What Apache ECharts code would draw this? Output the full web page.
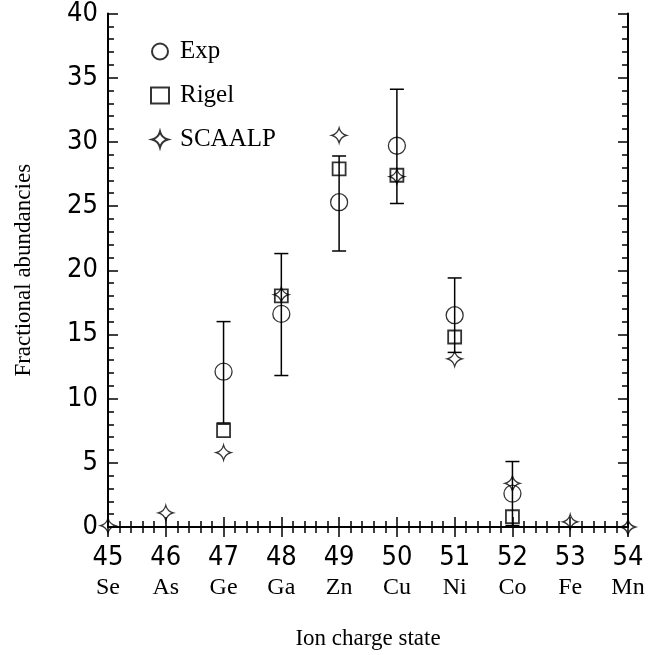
<!DOCTYPE html>
<html>
<head>
<meta charset="utf-8">
<title>Fractional abundancies</title>
<script src="https://cdn.jsdelivr.net/npm/echarts@6/dist/echarts.min.js"></script>
<style>
  html, body { margin: 0; padding: 0; background: #fff; }
  #chart { width: 660px; height: 655px; }
</style>
</head>
<body>
<div id="chart"></div>
<script>
// ion charge states and the matching element names
const charges = [45, 46, 47, 48, 49, 50, 51, 52, 53, 54]
const elements = ['Se', 'As', 'Ge', 'Ga', 'Zn', 'Cu', 'Ni', 'Co', 'Fe', 'Mn']

// experiment, with error bars
const expCharges = [47, 48, 49, 50, 51, 52]
const expValues = [12.1, 16.6, 25.3, 29.7, 16.5, 2.6]
const expLow = [8.1, 11.8, 21.5, 25.2, 13.6, 0.1]
const expHigh = [16.0, 21.3, 28.9, 34.1, 19.4, 5.1]

// Rigel
const rigelCharges = [47, 48, 49, 50, 51, 52]
const rigelValues = [7.5, 18.0, 27.9, 27.4, 14.8, 0.8]

// SCAALP
const scaalpValues = [0.1, 1.1, 5.8, 18.1, 30.5, 27.3, 13.1, 3.4, 0.4, 0.0]

const yTicks = [0, 5, 10, 15, 20, 25, 30, 35, 40]

const starPath = 'path://M0,-10 Q2,-2 10,0 Q2,2 0,10 Q-2,2 -10,0 Q-2,-2 0,-10 Z'
const sansFont = '"DejaVu Sans Condensed", "DejaVu Sans", sans-serif'
const serifFont = '"Liberation Serif", "DejaVu Serif", serif'

const chart = echarts.init(document.getElementById('chart'))

const tickStyle = { color: '#000', width: 1.5 }

const option = {
  animation: false,
  backgroundColor: '#fff',
  grid: { left: 108, right: 32, top: 9, bottom: 128 },
  legend: {
    orient: 'vertical',
    left: 145,
    top: 34,
    itemGap: 19,
    itemWidth: 18,
    itemHeight: 16,
    data: ['Exp', 'Rigel', 'SCAALP'],
    textStyle: { fontFamily: serifFont, fontSize: 25, color: '#000', padding: [0, 0, 0, 6] }
  },
  xAxis: [
    {
      type: 'value',
      min: 45,
      max: 54,
      interval: 1,
      position: 'bottom',
      name: 'Ion charge state',
      nameLocation: 'middle',
      nameMoveOverlap: false,
      nameGap: 100,
      nameTextStyle: { fontFamily: serifFont, fontSize: 23, color: '#000' },
      axisLine: { lineStyle: { color: '#000', width: 2 } },
      axisTick: { inside: true, length: 10, lineStyle: tickStyle },
      minorTick: { show: true, splitNumber: 5, length: 6, lineStyle: tickStyle },
      splitLine: { show: false },
      axisLabel: {
        margin: 16,
        formatter: function (v) {
          const i = charges.indexOf(v)
          return '{n|' + v + '}\n{e|' + (i >= 0 ? elements[i] : '') + '}'
        },
        rich: {
          n: { fontFamily: sansFont, fontSize: 27, fontWeight: 200, color: '#000', lineHeight: 30 },
          e: { fontFamily: serifFont, fontSize: 24, color: '#000', lineHeight: 30 }
        }
      }
    },
    {
      type: 'value',
      min: 45,
      max: 54,
      interval: 1,
      position: 'top',
      axisLine: { lineStyle: { color: '#000', width: 2 } },
      axisTick: { inside: true, length: 10, lineStyle: tickStyle },
      minorTick: { show: true, splitNumber: 5, length: 6, lineStyle: tickStyle },
      splitLine: { show: false },
      axisLabel: { show: false }
    }
  ],
  yAxis: [
    {
      type: 'value',
      min: 0,
      max: 40,
      interval: 5,
      position: 'left',
      name: 'Fractional abundancies',
      nameLocation: 'middle',
      nameMoveOverlap: false,
      nameGap: 73,
      nameTextStyle: { fontFamily: serifFont, fontSize: 23, color: '#000' },
      axisLine: { lineStyle: { color: '#000', width: 2 } },
      axisTick: { inside: true, length: 10, lineStyle: tickStyle },
      minorTick: { show: true, splitNumber: 5, length: 6, lineStyle: tickStyle },
      splitLine: { show: false },
      axisLabel: {
        margin: 10,
        fontFamily: sansFont,
        fontSize: 27,
        fontWeight: 200,
        color: '#000',
        formatter: function (v) { return yTicks.indexOf(v) >= 0 ? String(v) : '' }
      }
    },
    {
      type: 'value',
      min: 0,
      max: 40,
      interval: 5,
      position: 'right',
      axisLine: { lineStyle: { color: '#000', width: 2 } },
      axisTick: { inside: true, length: 10, lineStyle: tickStyle },
      minorTick: { show: true, splitNumber: 5, length: 6, lineStyle: tickStyle },
      splitLine: { show: false },
      axisLabel: { show: false }
    }
  ],
  series: [
    {
      name: 'errors',
      type: 'custom',
      silent: true,
      z: 2,
      data: expCharges.map((c, i) => [c, expLow[i], expHigh[i]]),
      renderItem: function (params, api) {
        const lo = api.coord([api.value(0), api.value(1)])
        const hi = api.coord([api.value(0), api.value(2)])
        const half = 7
        const style = { stroke: '#000', lineWidth: 1.5 }
        return {
          type: 'group',
          children: [
            { type: 'line', shape: { x1: hi[0], y1: hi[1], x2: lo[0], y2: lo[1] }, style: style },
            { type: 'line', shape: { x1: hi[0] - half, y1: hi[1], x2: hi[0] + half, y2: hi[1] }, style: style },
            { type: 'line', shape: { x1: lo[0] - half, y1: lo[1], x2: lo[0] + half, y2: lo[1] }, style: style }
          ]
        }
      }
    },
    {
      name: 'Exp',
      type: 'scatter',
      z: 3,
      symbol: 'circle',
      symbolSize: 17,
      itemStyle: { color: 'rgba(255,255,255,0)', borderColor: '#000', borderWidth: 1.3 },
      data: expCharges.map((c, i) => [c, expValues[i]])
    },
    {
      name: 'Rigel',
      type: 'scatter',
      z: 3,
      symbol: 'rect',
      symbolSize: 13,
      itemStyle: { color: 'rgba(255,255,255,0)', borderColor: '#000', borderWidth: 1.8 },
      data: rigelCharges.map((c, i) => [c, rigelValues[i]])
    },
    {
      name: 'SCAALP',
      type: 'scatter',
      z: 4,
      symbol: starPath,
      symbolSize: 15,
      itemStyle: { color: 'rgba(255,255,255,0)', borderColor: '#000', borderWidth: 1.3 },
      data: charges.map((c, i) => [c, scaalpValues[i]])
    }
  ]
}

chart.setOption(option)
</script>
</body>
</html>
